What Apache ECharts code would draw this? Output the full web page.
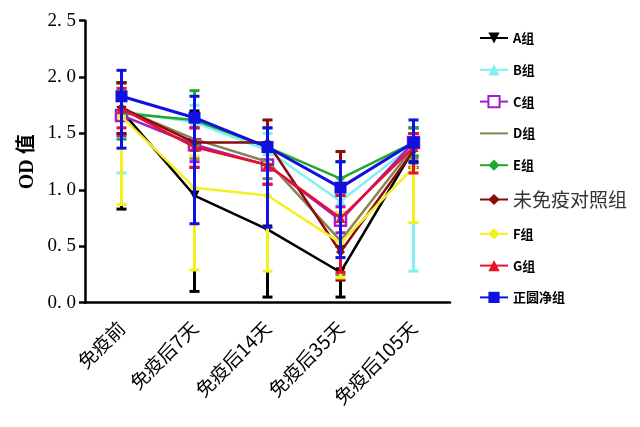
<!DOCTYPE html>
<html><head><meta charset="utf-8">
<script src="https://cdn.jsdelivr.net/npm/echarts@6/dist/echarts.min.js"></script>
<style>html,body{margin:0;padding:0;background:#fff}#c{width:640px;height:427px}</style>
</head><body><div id="c"></div>
<script>
const categories = ['免疫前','免疫后7天','免疫后14天','免疫后35天','免疫后105天'];
const yTicks = [0, 0.5, 1.0, 1.5, 2.0, 2.5];

const groupNames = ['A组','B组','C组','D组','E组','未免疫对照组','F组','G组','正圆净组'];

const meanA = [1.70, 0.95, 0.65, 0.27, 1.36];
const loA   = [0.83, 0.10, 0.05, 0.05, 1.25];
const hiA   = [1.95, 1.70, 1.40, 0.50, 1.45];

const meanB = [1.70, 1.60, 1.35, 0.90, 1.40];
const loB   = [1.15, 1.45, 1.20, 0.75, 0.28];
const hiB   = [1.90, 1.75, 1.50, 1.05, 1.55];

const meanC = [1.66, 1.40, 1.22, 0.73, 1.42];
const loC   = [1.48, 1.25, 1.05, 0.62, 1.30];
const hiC   = [1.85, 1.55, 1.38, 0.85, 1.55];

const meanD = [1.72, 1.45, 1.25, 0.55, 1.38];
const loD   = [1.50, 1.28, 1.10, 0.25, 1.28];
const hiD   = [1.95, 1.62, 1.40, 0.80, 1.50];

const meanE = [1.68, 1.62, 1.38, 1.10, 1.42];
const loE   = [1.45, 1.40, 1.20, 0.95, 1.30];
const hiE   = [1.95, 1.88, 1.55, 1.25, 1.55];

const meanCtrl = [1.73, 1.42, 1.42, 0.45, 1.35];
const loCtrl   = [1.50, 1.20, 1.22, 0.20, 1.20];
const hiCtrl   = [1.95, 1.65, 1.62, 1.34, 1.50];

const meanF = [1.65, 1.02, 0.95, 0.53, 1.20];
const loF   = [0.87, 0.29, 0.28, 0.22, 0.71];
const hiF   = [1.80, 1.30, 1.20, 0.80, 1.35];

const meanG = [1.72, 1.38, 1.22, 0.75, 1.38];
const loG   = [1.55, 1.20, 1.05, 0.27, 1.15];
const hiG   = [1.90, 1.55, 1.40, 0.95, 1.50];

const meanP = [1.83, 1.64, 1.38, 1.02, 1.42];
const loP   = [1.37, 0.70, 0.67, 0.40, 1.24];
const hiP   = [2.06, 1.83, 1.55, 1.25, 1.62];

const groups = [
  {mean: meanA, lo: loA, hi: hiA, color: '#000000', symbol: 'path://M0,0 L10,0 L5,9 Z', size: 10, hollow:false},
  {mean: meanB, lo: loB, hi: hiB, color: '#80f0f0', symbol: 'triangle', size: 11, hollow:false},
  {mean: meanC, lo: loC, hi: hiC, color: '#a020c8', symbol: 'rect', size: 11, hollow:true},
  {mean: meanD, lo: loD, hi: hiD, color: '#8a8250', symbol: 'none', size: 0, hollow:false},
  {mean: meanE, lo: loE, hi: hiE, color: '#20a830', symbol: 'diamond', size: 9, hollow:false},
  {mean: meanCtrl, lo: loCtrl, hi: hiCtrl, color: '#8b0a0a', symbol: 'diamond', size: 9, hollow:false},
  {mean: meanF, lo: loF, hi: hiF, color: '#f4f020', symbol: 'diamond', size: 9, hollow:false},
  {mean: meanG, lo: loG, hi: hiG, color: '#e8102a', symbol: 'triangle', size: 10, hollow:false},
  {mean: meanP, lo: loP, hi: hiP, color: '#1010e0', symbol: 'rect', size: 12, hollow:false}
];

const series = [];
groups.forEach((g, gi) => {
  const name = groupNames[gi];
  series.push({
    type: 'line', name: name, z: 3 + gi * 2,
    data: g.mean,
    symbol: g.symbol, symbolSize: g.size, showSymbol: g.symbol !== 'none',
    lineStyle: {color: g.color, width: gi === 8 ? 3 : 2.5},
    itemStyle: g.hollow ? {color: '#ffffff', borderColor: g.color, borderWidth: 2.5} : {color: g.color, borderWidth: 0},
    color: g.color
  });
  series.push({
    type: 'custom', name: name + '_err', z: 2 + gi * 2,
    data: categories.map((c, i) => [i, g.lo[i], g.hi[i]]),
    renderItem: function (params, api) {
      const lo = api.coord([api.value(0), api.value(1)]);
      const hi = api.coord([api.value(0), api.value(2)]);
      const w = 5;
      const st = {stroke: g.color, lineWidth: 3};
      return {type: 'group', children: [
        {type: 'line', shape: {x1: lo[0], y1: lo[1], x2: hi[0], y2: hi[1]}, style: st},
        {type: 'line', shape: {x1: lo[0]-w, y1: lo[1], x2: lo[0]+w, y2: lo[1]}, style: st},
        {type: 'line', shape: {x1: hi[0]-w, y1: hi[1], x2: hi[0]+w, y2: hi[1]}, style: st}
      ]};
    }
  });
});

const legendData = groupNames.map((n, i) => groups[i].symbol === 'none'
  ? {name: n, itemStyle: {color: 'rgba(0,0,0,0)', borderColor: 'rgba(0,0,0,0)', opacity: 0}}
  : {name: n});

const chart = echarts.init(document.getElementById('c'), null, {renderer: 'canvas'});
chart.setOption({
  animation: false,
  backgroundColor: '#ffffff',
  grid: {left: 85, right: 190, top: 20.7, bottom: 124.3, containLabel: false},
  xAxis: {
    type: 'category', data: categories, boundaryGap: true,
    axisLine: {lineStyle: {color: '#000', width: 2.5}},
    axisTick: {alignWithLabel: true, length: 6, lineStyle: {color: '#000', width: 2.5}},
    axisLabel: {rotate: 45, margin: 22, color: '#000', fontFamily: 'Noto Sans CJK SC, serif', fontSize: 19, interval: 0}
  },
  yAxis: {
    type: 'value', min: 0, max: 2.5, interval: 0.5,
    name: 'OD 值', nameLocation: 'middle', nameGap: 47, nameRotate: 90, nameMoveOverlap: false,
    nameTextStyle: {color: '#000', fontFamily: 'Liberation Serif, Noto Sans CJK SC', fontSize: 20, fontWeight: 'bold'},
    axisLine: {show: true, lineStyle: {color: '#000', width: 2.5}},
    axisTick: {show: true, length: 6, lineStyle: {color: '#000', width: 2.5}},
    splitLine: {show: false},
    axisLabel: {color: '#000', fontFamily: 'Liberation Serif, serif', fontSize: 19, margin: 9,
      formatter: v => yTicks.indexOf(v) >= 0 ? v.toFixed(1).replace('.', '. ') : ''}
  },
  legend: {
    orient: 'vertical', left: 474, top: 26, itemGap: 17.8, itemWidth: 28, itemHeight: 14,
    data: legendData,
    textStyle: {color: '#000', fontFamily: 'Noto Sans CJK SC, sans-serif', fontSize: 13, fontWeight: 'bold', lineHeight: 14,
      rich: {big: {fontSize: 19, color: '#333', fontWeight: 'normal', lineHeight: 14, fontFamily: 'Noto Sans CJK SC, sans-serif'}}},
    formatter: n => n === '未免疫对照组' ? '{big|' + n + '}' : n
  },
  series: series
});
</script></body></html>
